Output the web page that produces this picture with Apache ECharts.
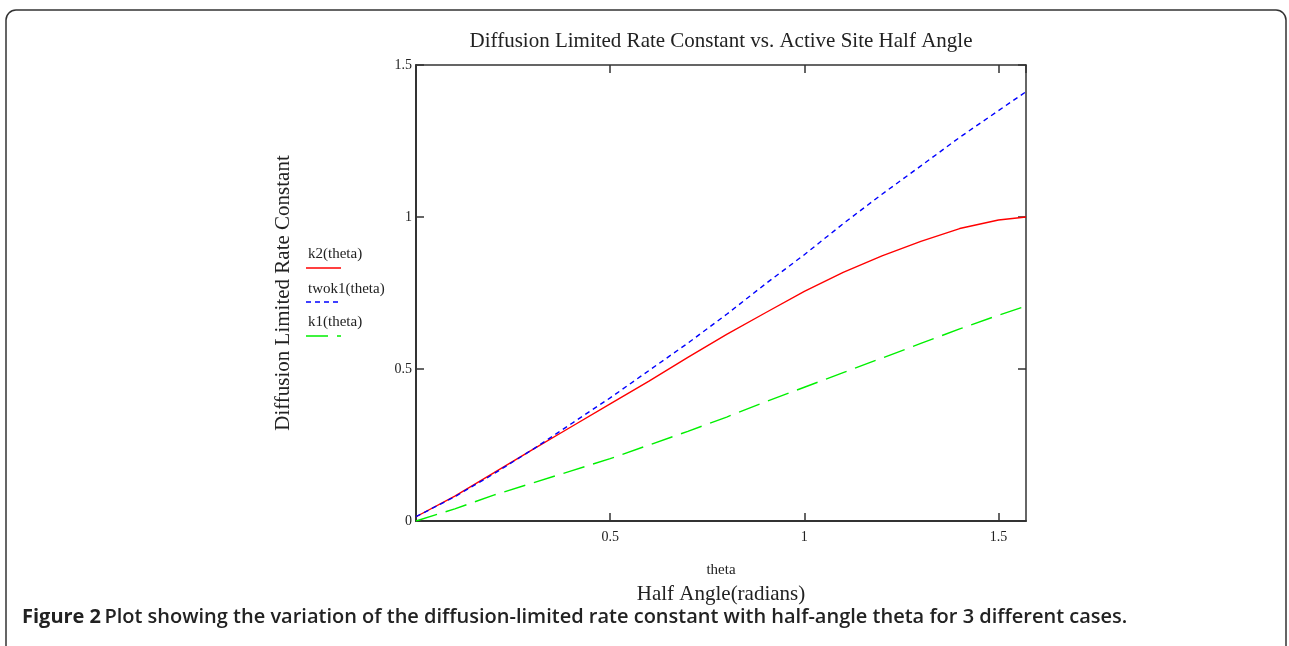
<!DOCTYPE html>
<html>
<head>
  <meta charset="utf-8">
  <title>Diffusion Limited Rate Constant</title>
  <script src="https://cdn.jsdelivr.net/npm/echarts@6/dist/echarts.min.js"></script>
  <style>
    html, body { margin: 0; padding: 0; background: #fff; }
    #main { width: 1289px; height: 646px; }
  </style>
</head>
<body>
  <div id="main"></div>
  <script type="text/javascript">
    // values
    var theta = [0, 0.1, 0.2, 0.3, 0.4, 0.5, 0.6, 0.7, 0.8, 0.9, 1.0, 1.1, 1.2, 1.3, 1.4, 1.5, 1.5708];
    var k2 = [0.014, 0.082, 0.158, 0.235, 0.31, 0.385, 0.46, 0.538, 0.614, 0.685, 0.755, 0.818, 0.872, 0.92, 0.962, 0.99, 1.0];
    var twok1 = [0.014, 0.08, 0.155, 0.235, 0.32, 0.405, 0.495, 0.585, 0.68, 0.78, 0.876, 0.978, 1.075, 1.168, 1.262, 1.35, 1.412];
    var k1 = [0, 0.04, 0.085, 0.125, 0.165, 0.205, 0.25, 0.295, 0.342, 0.392, 0.44, 0.488, 0.536, 0.584, 0.632, 0.677, 0.707];
    var xTicks = [0.5, 1, 1.5];
    var yTicks = [0, 0.5, 1, 1.5];

    var serif = '"Liberation Serif", "DejaVu Serif", serif';

    function pairs(ys) {
      return theta.map(function (t, i) { return [t, ys[i]]; });
    }

    var myChart = echarts.init(document.getElementById('main'));

    var axisLine = { show: true, onZero: false, lineStyle: { color: '#333', width: 2 } };
    var mirrorLine = { show: true, onZero: false, lineStyle: { color: '#333', width: 1.5 } };
    var tick = { show: true, inside: true, length: 8, lineStyle: { color: '#333', width: 1.5 } };

    var option = {
      animation: false,
      backgroundColor: '#fff',
      grid: { left: 416, top: 65, right: 263, bottom: 125, containLabel: false },
      xAxis: [
        {
          type: 'value', min: 0, max: 1.5708, interval: 0.5,
          position: 'bottom',
          name: 'theta', nameLocation: 'middle', nameGap: 42,
          nameTextStyle: { fontFamily: serif, fontSize: 15, color: '#222' },
          axisLine: axisLine, axisTick: tick, splitLine: { show: false },
          axisLabel: {
            fontFamily: serif, fontSize: 14, color: '#222', margin: 9,
            showMaxLabel: false, showMinLabel: false,
            formatter: function (v) { return xTicks.indexOf(v) >= 0 ? String(v) : ''; }
          }
        },
        {
          type: 'value', min: 0, max: 1.5708, interval: 0.5,
          position: 'top',
          axisLine: mirrorLine, axisTick: tick, axisLabel: { show: false }, splitLine: { show: false }
        }
      ],
      yAxis: [
        {
          type: 'value', min: 0, max: 1.5, interval: 0.5,
          position: 'left',
          name: 'Diffusion Limited Rate Constant', nameLocation: 'middle', nameGap: 122, nameRotate: 90,
          nameTextStyle: { fontFamily: serif, fontSize: 21, color: '#222' },
          axisLine: axisLine, axisTick: tick, splitLine: { show: false },
          axisLabel: {
            fontFamily: serif, fontSize: 14, color: '#222', margin: 4,
            formatter: function (v) { return yTicks.indexOf(v) >= 0 ? String(v) : ''; }
          }
        },
        {
          type: 'value', min: 0, max: 1.5, interval: 0.5,
          position: 'right',
          axisLine: mirrorLine, axisTick: tick, axisLabel: { show: false }, splitLine: { show: false }
        }
      ],
      series: [
        {
          name: 'k2(theta)', type: 'line', data: pairs(k2),
          showSymbol: false, smooth: false,
          lineStyle: { color: '#ff0000', width: 1.4 }
        },
        {
          name: 'twok1(theta)', type: 'line', data: pairs(twok1),
          showSymbol: false, smooth: false,
          lineStyle: { color: '#0000ff', width: 1.4, type: [5, 4] }
        },
        {
          name: 'k1(theta)', type: 'line', data: pairs(k1),
          showSymbol: false, smooth: false,
          lineStyle: { color: '#00f000', width: 1.4, type: [22, 9] }
        }
      ],
      graphic: [
        // outer rounded frame
        {
          type: 'rect', shape: { x: 6, y: 10, width: 1280, height: 700, r: 10 },
          style: { fill: 'none', stroke: '#333', lineWidth: 1.5 }, silent: true
        },
        {
          type: 'text', x: 721, y: 41,
          style: {
            text: 'Diffusion Limited Rate Constant vs. Active Site Half Angle',
            font: '21px ' + serif, fill: '#222', textAlign: 'center', textVerticalAlign: 'middle'
          }
        },
        {
          type: 'text', x: 721, y: 594,
          style: {
            text: 'Half Angle(radians)',
            font: '21px ' + serif, fill: '#222', textAlign: 'center', textVerticalAlign: 'middle'
          }
        },
        // legend
        { type: 'text', x: 308, y: 254, style: { text: 'k2(theta)', font: '15px ' + serif, fill: '#222', textVerticalAlign: 'middle' } },
        { type: 'line', shape: { x1: 306, y1: 268, x2: 341, y2: 268 }, style: { stroke: '#ff0000', lineWidth: 1.4 } },
        { type: 'text', x: 308, y: 289, style: { text: 'twok1(theta)', font: '15px ' + serif, fill: '#222', textVerticalAlign: 'middle' } },
        { type: 'line', shape: { x1: 306, y1: 302, x2: 341, y2: 302 }, style: { stroke: '#0000ff', lineWidth: 1.4, lineDash: [5, 4] } },
        { type: 'text', x: 308, y: 322, style: { text: 'k1(theta)', font: '15px ' + serif, fill: '#222', textVerticalAlign: 'middle' } },
        { type: 'line', shape: { x1: 306, y1: 336, x2: 341, y2: 336 }, style: { stroke: '#00f000', lineWidth: 1.4, lineDash: [22, 9] } },
        // caption
        {
          type: 'text', x: 22, y: 617,
          style: {
            text: '{b|Figure 2} {n|Plot showing the variation of the diffusion-limited rate constant with half-angle theta for 3 different cases.}',
            textVerticalAlign: 'middle',
            rich: {
              b: { fontFamily: '"Open Sans", sans-serif', fontWeight: 'bold', fontSize: 20, fill: '#222' },
              n: { fontFamily: '"Open Sans", sans-serif', fontWeight: 600, fontSize: 20, fill: '#222' }
            }
          }
        }
      ]
    };

    myChart.setOption(option);
  </script>
</body>
</html>
